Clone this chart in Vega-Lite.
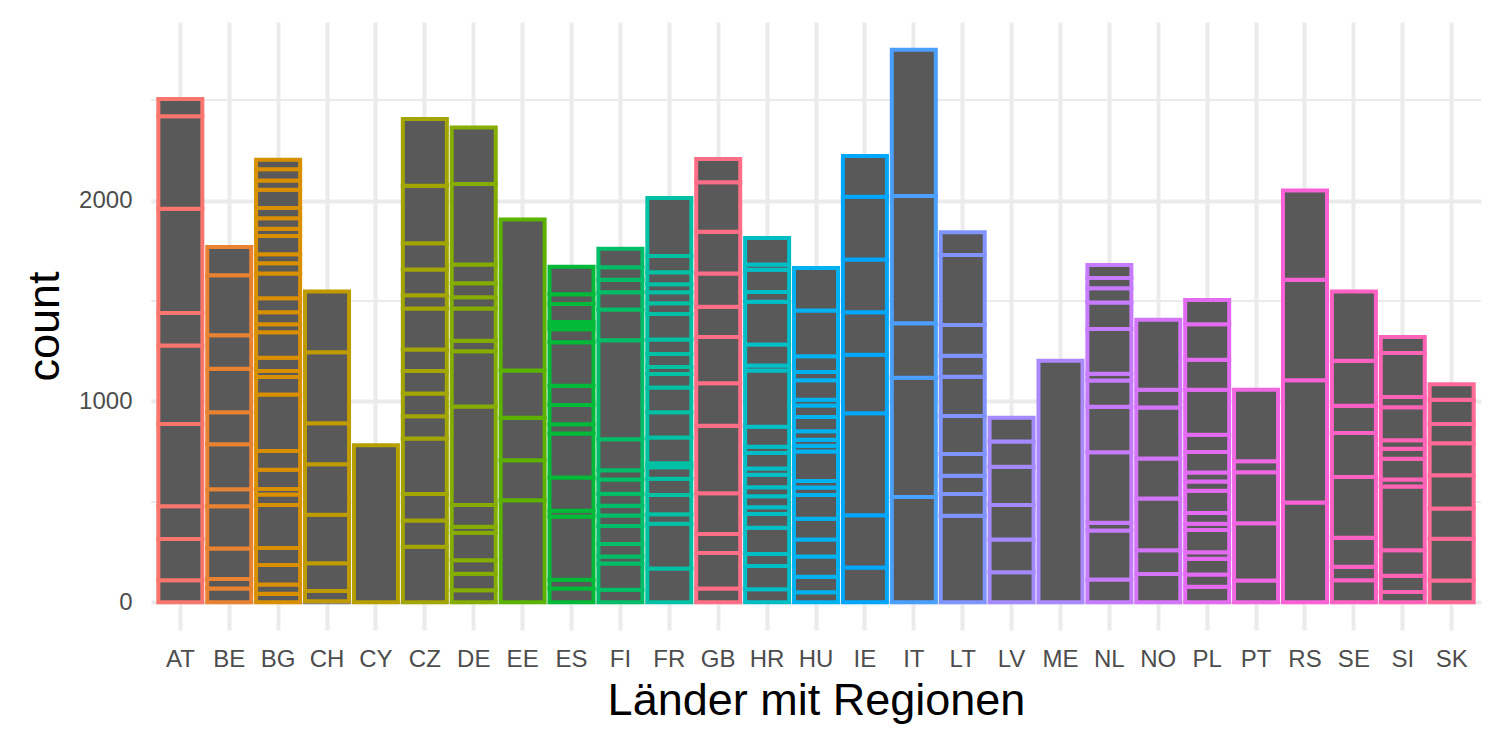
{
"$schema":"https://vega.github.io/schema/vega-lite/v6.json",
"autosize":{"type":"none"},
"padding":{"left":151,"top":22,"right":19,"bottom":120},
"width":1330,
"height":608,
"background":"white",
"config":{"view":{"stroke":null},"font":"Liberation Sans"},
"layer":[
{"data":{"values":[{"minor":500},{"minor":1500},{"minor":2500}]},
 "mark":{"type":"rule","color":"#EBEBEB","strokeWidth":2},
 "encoding":{"y":{"field":"minor","type":"quantitative"}}},
{"data":{"values":[
{"land":"AT","region":"AT01","count":110},{"land":"AT","region":"AT02","count":205},{"land":"AT","region":"AT03","count":163},{"land":"AT","region":"AT04","count":410},{"land":"AT","region":"AT05","count":391},{"land":"AT","region":"AT06","count":161},{"land":"AT","region":"AT07","count":519},{"land":"AT","region":"AT08","count":460},{"land":"AT","region":"AT09","count":86},
{"land":"BE","region":"BE01","count":69},{"land":"BE","region":"BE02","count":47},{"land":"BE","region":"BE03","count":152},{"land":"BE","region":"BE04","count":210},{"land":"BE","region":"BE05","count":85},{"land":"BE","region":"BE06","count":224},{"land":"BE","region":"BE07","count":159},{"land":"BE","region":"BE08","count":217},{"land":"BE","region":"BE09","count":167},{"land":"BE","region":"BE10","count":298},{"land":"BE","region":"BE11","count":141},
{"land":"BG","region":"BG01","count":43},{"land":"BG","region":"BG02","count":46},{"land":"BG","region":"BG03","count":97},{"land":"BG","region":"BG04","count":85},{"land":"BG","region":"BG05","count":214},{"land":"BG","region":"BG06","count":52},{"land":"BG","region":"BG07","count":27},{"land":"BG","region":"BG08","count":96},{"land":"BG","region":"BG09","count":94},{"land":"BG","region":"BG10","count":281},{"land":"BG","region":"BG11","count":87},{"land":"BG","region":"BG12","count":29},{"land":"BG","region":"BG13","count":67},{"land":"BG","region":"BG14","count":126},{"land":"BG","region":"BG15","count":40},{"land":"BG","region":"BG16","count":60},{"land":"BG","region":"BG17","count":70},{"land":"BG","region":"BG18","count":123},{"land":"BG","region":"BG19","count":51},{"land":"BG","region":"BG20","count":45},{"land":"BG","region":"BG21","count":90},{"land":"BG","region":"BG22","count":37},{"land":"BG","region":"BG23","count":52},{"land":"BG","region":"BG24","count":51},{"land":"BG","region":"BG25","count":90},{"land":"BG","region":"BG26","count":47},{"land":"BG","region":"BG27","count":56},{"land":"BG","region":"BG28","count":47},
{"land":"CH","region":"CH-NA","count":6},{"land":"CH","region":"CH01","count":50},{"land":"CH","region":"CH02","count":139},{"land":"CH","region":"CH03","count":241},{"land":"CH","region":"CH04","count":251},{"land":"CH","region":"CH05","count":205},{"land":"CH","region":"CH06","count":353},{"land":"CH","region":"CH07","count":302},
{"land":"CY","region":"CY01","count":782},
{"land":"CZ","region":"CZ01","count":277},{"land":"CZ","region":"CZ02","count":130},{"land":"CZ","region":"CZ03","count":132},{"land":"CZ","region":"CZ04","count":277},{"land":"CZ","region":"CZ05","count":110},{"land":"CZ","region":"CZ06","count":114},{"land":"CZ","region":"CZ07","count":111},{"land":"CZ","region":"CZ08","count":108},{"land":"CZ","region":"CZ09","count":203},{"land":"CZ","region":"CZ10","count":67},{"land":"CZ","region":"CZ11","count":128},{"land":"CZ","region":"CZ12","count":130},{"land":"CZ","region":"CZ13","count":286},{"land":"CZ","region":"CZ14","count":333},
{"land":"DE","region":"DE01","count":60},{"land":"DE","region":"DE02","count":83},{"land":"DE","region":"DE03","count":67},{"land":"DE","region":"DE04","count":137},{"land":"DE","region":"DE05","count":29},{"land":"DE","region":"DE06","count":109},{"land":"DE","region":"DE07","count":490},{"land":"DE","region":"DE08","count":275},{"land":"DE","region":"DE09","count":52},{"land":"DE","region":"DE10","count":160},{"land":"DE","region":"DE11","count":56},{"land":"DE","region":"DE12","count":70},{"land":"DE","region":"DE13","count":93},{"land":"DE","region":"DE14","count":401},{"land":"DE","region":"DE15","count":281},
{"land":"EE","region":"EE01","count":508},{"land":"EE","region":"EE02","count":199},{"land":"EE","region":"EE03","count":212},{"land":"EE","region":"EE04","count":235},{"land":"EE","region":"EE05","count":751},
{"land":"ES","region":"ES01","count":69},{"land":"ES","region":"ES02","count":43},{"land":"ES","region":"ES03","count":315},{"land":"ES","region":"ES04","count":29},{"land":"ES","region":"ES05","count":166},{"land":"ES","region":"ES06","count":219},{"land":"ES","region":"ES07","count":45},{"land":"ES","region":"ES08","count":96},{"land":"ES","region":"ES09","count":96},{"land":"ES","region":"ES10","count":217},{"land":"ES","region":"ES11","count":64},{"land":"ES","region":"ES12","count":18},{"land":"ES","region":"ES13","count":18},{"land":"ES","region":"ES14","count":90},{"land":"ES","region":"ES15","count":49},{"land":"ES","region":"ES16","count":136},
{"land":"FI","region":"FI01","count":63},{"land":"FI","region":"FI02","count":131},{"land":"FI","region":"FI03","count":34},{"land":"FI","region":"FI04","count":62},{"land":"FI","region":"FI05","count":90},{"land":"FI","region":"FI06","count":52},{"land":"FI","region":"FI07","count":49},{"land":"FI","region":"FI08","count":60},{"land":"FI","region":"FI09","count":70},{"land":"FI","region":"FI10","count":47},{"land":"FI","region":"FI11","count":154},{"land":"FI","region":"FI12","count":492},{"land":"FI","region":"FI13","count":154},{"land":"FI","region":"FI14","count":85},{"land":"FI","region":"FI15","count":63},{"land":"FI","region":"FI16","count":62},{"land":"FI","region":"FI17","count":92},
{"land":"FR","region":"FR01","count":168},{"land":"FR","region":"FR02","count":223},{"land":"FR","region":"FR03","count":47},{"land":"FR","region":"FR04","count":96},{"land":"FR","region":"FR05","count":81},{"land":"FR","region":"FR06","count":58},{"land":"FR","region":"FR07","count":20},{"land":"FR","region":"FR08","count":128},{"land":"FR","region":"FR09","count":125},{"land":"FR","region":"FR10","count":123},{"land":"FR","region":"FR11","count":67},{"land":"FR","region":"FR12","count":36},{"land":"FR","region":"FR13","count":64},{"land":"FR","region":"FR14","count":72},{"land":"FR","region":"FR15","count":127},{"land":"FR","region":"FR16","count":54},{"land":"FR","region":"FR17","count":54},{"land":"FR","region":"FR18","count":40},{"land":"FR","region":"FR19","count":60},{"land":"FR","region":"FR20","count":81},{"land":"FR","region":"FR21","count":289},
{"land":"GB","region":"GB01","count":69},{"land":"GB","region":"GB02","count":177},{"land":"GB","region":"GB03","count":94},{"land":"GB","region":"GB04","count":203},{"land":"GB","region":"GB05","count":336},{"land":"GB","region":"GB06","count":212},{"land":"GB","region":"GB07","count":230},{"land":"GB","region":"GB08","count":150},{"land":"GB","region":"GB09","count":166},{"land":"GB","region":"GB10","count":208},{"land":"GB","region":"GB11","count":246},{"land":"GB","region":"GB12","count":116},
{"land":"HR","region":"HR01","count":65},{"land":"HR","region":"HR02","count":116},{"land":"HR","region":"HR03","count":60},{"land":"HR","region":"HR04","count":130},{"land":"HR","region":"HR05","count":69},{"land":"HR","region":"HR06","count":34},{"land":"HR","region":"HR07","count":54},{"land":"HR","region":"HR08","count":45},{"land":"HR","region":"HR09","count":62},{"land":"HR","region":"HR10","count":31},{"land":"HR","region":"HR11","count":77},{"land":"HR","region":"HR12","count":31},{"land":"HR","region":"HR13","count":100},{"land":"HR","region":"HR14","count":280},{"land":"HR","region":"HR15","count":25},{"land":"HR","region":"HR16","count":104},{"land":"HR","region":"HR17","count":213},{"land":"HR","region":"HR18","count":49},{"land":"HR","region":"HR19","count":110},{"land":"HR","region":"HR20","count":27},{"land":"HR","region":"HR21","count":132},
{"land":"HU","region":"HU01","count":51},{"land":"HU","region":"HU02","count":76},{"land":"HU","region":"HU03","count":101},{"land":"HU","region":"HU04","count":85},{"land":"HU","region":"HU05","count":103},{"land":"HU","region":"HU06","count":119},{"land":"HU","region":"HU07","count":37},{"land":"HU","region":"HU08","count":32},{"land":"HU","region":"HU09","count":147},{"land":"HU","region":"HU10","count":29},{"land":"HU","region":"HU11","count":29},{"land":"HU","region":"HU12","count":43},{"land":"HU","region":"HU13","count":71},{"land":"HU","region":"HU14","count":57},{"land":"HU","region":"HU15","count":29},{"land":"HU","region":"HU16","count":96},{"land":"HU","region":"HU17","count":42},{"land":"HU","region":"HU18","count":78},{"land":"HU","region":"HU19","count":228},{"land":"HU","region":"HU20","count":211},
{"land":"IE","region":"IE01","count":174},{"land":"IE","region":"IE02","count":260},{"land":"IE","region":"IE03","count":507},{"land":"IE","region":"IE04","count":291},{"land":"IE","region":"IE05","count":212},{"land":"IE","region":"IE06","count":262},{"land":"IE","region":"IE07","count":313},{"land":"IE","region":"IE08","count":202},
{"land":"IT","region":"IT01","count":525},{"land":"IT","region":"IT02","count":593},{"land":"IT","region":"IT03","count":271},{"land":"IT","region":"IT04","count":633},{"land":"IT","region":"IT05","count":729},
{"land":"LT","region":"LT01","count":431},{"land":"LT","region":"LT02","count":108},{"land":"LT","region":"LT03","count":91},{"land":"LT","region":"LT04","count":108},{"land":"LT","region":"LT05","count":190},{"land":"LT","region":"LT06","count":195},{"land":"LT","region":"LT07","count":104},{"land":"LT","region":"LT08","count":153},{"land":"LT","region":"LT09","count":349},{"land":"LT","region":"LT10","count":113},
{"land":"LV","region":"LV01","count":150},{"land":"LV","region":"LV02","count":163},{"land":"LV","region":"LV03","count":172},{"land":"LV","region":"LV04","count":190},{"land":"LV","region":"LV05","count":126},{"land":"LV","region":"LV06","count":118},
{"land":"ME","region":"ME01","count":1203},
{"land":"NL","region":"NL01","count":114},{"land":"NL","region":"NL02","count":244},{"land":"NL","region":"NL03","count":38},{"land":"NL","region":"NL04","count":351},{"land":"NL","region":"NL05","count":226},{"land":"NL","region":"NL06","count":131},{"land":"NL","region":"NL07","count":34},{"land":"NL","region":"NL08","count":222},{"land":"NL","region":"NL09","count":132},{"land":"NL","region":"NL10","count":71},{"land":"NL","region":"NL11","count":51},{"land":"NL","region":"NL12","count":65},
{"land":"NO","region":"NO01","count":141},{"land":"NO","region":"NO02","count":118},{"land":"NO","region":"NO03","count":258},{"land":"NO","region":"NO04","count":199},{"land":"NO","region":"NO05","count":254},{"land":"NO","region":"NO06","count":88},{"land":"NO","region":"NO07","count":349},
{"land":"PL","region":"PL01","count":78},{"land":"PL","region":"PL02","count":61},{"land":"PL","region":"PL03","count":78},{"land":"PL","region":"PL04","count":33},{"land":"PL","region":"PL05","count":110},{"land":"PL","region":"PL06","count":31},{"land":"PL","region":"PL07","count":54},{"land":"PL","region":"PL08","count":110},{"land":"PL","region":"PL09","count":47},{"land":"PL","region":"PL10","count":44},{"land":"PL","region":"PL11","count":103},{"land":"PL","region":"PL12","count":85},{"land":"PL","region":"PL13","count":224},{"land":"PL","region":"PL14","count":150},{"land":"PL","region":"PL15","count":176},{"land":"PL","region":"PL16","count":121},
{"land":"PT","region":"PT01","count":109},{"land":"PT","region":"PT02","count":285},{"land":"PT","region":"PT03","count":254},{"land":"PT","region":"PT04","count":54},{"land":"PT","region":"PT05","count":356},
{"land":"RS","region":"RS01","count":497},{"land":"RS","region":"RS02","count":608},{"land":"RS","region":"RS03","count":501},{"land":"RS","region":"RS04","count":444},
{"land":"SE","region":"SE01","count":110},{"land":"SE","region":"SE02","count":67},{"land":"SE","region":"SE03","count":145},{"land":"SE","region":"SE04","count":302},{"land":"SE","region":"SE05","count":219},{"land":"SE","region":"SE06","count":136},{"land":"SE","region":"SE07","count":224},{"land":"SE","region":"SE08","count":344},
{"land":"SI","region":"SI01","count":52},{"land":"SI","region":"SI02","count":80},{"land":"SI","region":"SI03","count":127},{"land":"SI","region":"SI04","count":318},{"land":"SI","region":"SI05","count":34},{"land":"SI","region":"SI06","count":104},{"land":"SI","region":"SI07","count":50},{"land":"SI","region":"SI08","count":42},{"land":"SI","region":"SI09","count":164},{"land":"SI","region":"SI10","count":51},{"land":"SI","region":"SI11","count":219},{"land":"SI","region":"SI12","count":80},
{"land":"SK","region":"SK01","count":109},{"land":"SK","region":"SK02","count":208},{"land":"SK","region":"SK03","count":150},{"land":"SK","region":"SK04","count":166},{"land":"SK","region":"SK05","count":159},{"land":"SK","region":"SK06","count":96},{"land":"SK","region":"SK07","count":121},{"land":"SK","region":"SK08","count":76}
]},
 "mark":{"type":"bar","fill":"#595959","strokeWidth":4,"strokeJoin":"miter"},
 "encoding":{
  "x":{"field":"land","type":"nominal","sort":"ascending",
       "scale":{"paddingInner":0.1,"paddingOuter":0.15},
       "axis":{"title":"Länder mit Regionen","titleFontSize":45,"titleFontWeight":"normal","titleColor":"#000000","titleFont":"Liberation Sans","titlePadding":7,
               "labelFontSize":24,"labelColor":"#4D4D4D","labelFont":"Liberation Sans","labelAngle":0,"labelPadding":17,
               "domain":false,"ticks":false,"grid":true,"gridColor":"#EBEBEB","gridWidth":4,"bandPosition":0.5}},
  "y":{"field":"count","type":"quantitative","stack":"zero",
       "scale":{"domain":[-137.5,2888.5],"nice":false,"zero":false},
       "axis":{"title":"count","titleFontSize":45,"titleFontWeight":"normal","titleColor":"#000000","titleFont":"Liberation Sans","titlePadding":11,
               "values":[0,1000,2000],"format":"d","labelFontSize":24,"labelColor":"#4D4D4D","labelFont":"Liberation Sans","labelPadding":19,
               "domain":false,"ticks":false,"grid":true,"gridColor":"#EBEBEB","gridWidth":4}},
  "order":{"field":"region","type":"ordinal","sort":"ascending"},
  "stroke":{"condition":{"test":"indexof(datum.region,'NA')>=0","value":"#7F7F7F"},
            "field":"land","type":"nominal","legend":null,
            "scale":{"domain":["AT","BE","BG","CH","CY","CZ","DE","EE","ES","FI","FR","GB","HR","HU","IE","IT","LT","LV","ME","NL","NO","PL","PT","RS","SE","SI","SK"],
                     "range":["#F8766D","#EA8331","#D89000","#C09B00","#B5A000","#A3A500","#85AD00","#5BB300","#00BA38","#00BE67","#00C1A3","#FD6F86","#00BEC6","#00B2F0","#00A6FF","#4BA0FF","#8093FF","#A58AFF","#AC88FF","#C77CFF","#D474F9","#E36BF2","#F066E3","#FB61D7","#FE61C4","#FF63B6","#FF6A98"]}}
 }}
]
}
